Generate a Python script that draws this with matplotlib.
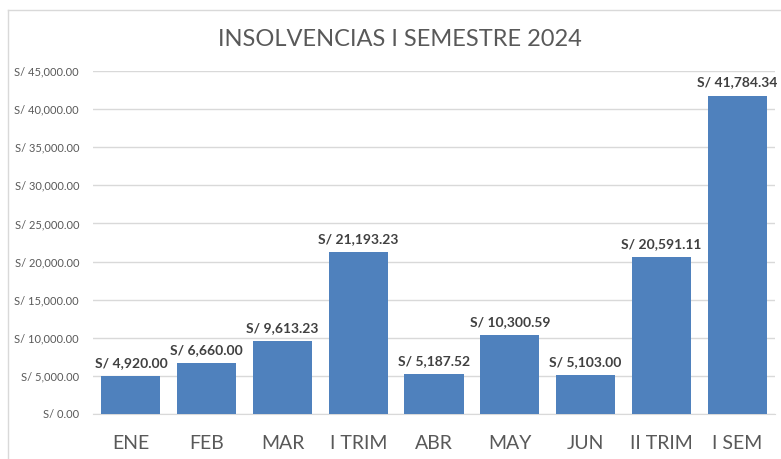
import matplotlib
matplotlib.use("Agg")
import matplotlib.pyplot as plt
from matplotlib.lines import Line2D
from matplotlib.ticker import FuncFormatter

categories = ["ENE", "FEB", "MAR", "I TRIM", "ABR", "MAY", "JUN", "II TRIM", "I SEM"]
values = [4920.00, 6660.00, 9613.23, 21193.23, 5187.52, 10300.59, 5103.00, 20591.11, 41784.34]
title = "INSOLVENCIAS I SEMESTRE 2024"

plt.rcParams['font.family'] = ['Lato', 'DejaVu Sans']

fig = plt.figure(figsize=(7.81, 4.59), dpi=100)
ax = fig.add_axes([93 / 781, 1 - 414 / 459, (775 - 93) / 781, (414 - 71) / 459])

x = range(len(categories))
bars = ax.bar(x, values, width=0.78, color="#4f81bd", zorder=3)

ax.set_xlim(-0.5, len(categories) - 0.5)
ax.set_ylim(0, 45000)
ax.set_yticks(range(0, 45001, 5000))
ax.yaxis.set_major_formatter(FuncFormatter(lambda v, p: f"S/ {v:,.2f}"))
ax.grid(axis="y", color="#d9d9d9", linewidth=1, zorder=0)
ax.set_xticks(list(x))
ax.set_xticklabels(categories, fontsize=14, color="#595959")
ax.tick_params(axis="y", labelsize=8, colors="#595959", length=0, pad=10)
ax.tick_params(axis="x", length=0, pad=15)
for s in ["top", "right", "left"]:
    ax.spines[s].set_visible(False)
ax.spines["bottom"].set_color("#d9d9d9")

for b, v in zip(bars, values):
    ax.annotate(f"S/ {v:,.2f}", (b.get_x() + b.get_width() / 2, v),
                xytext=(0, 5), textcoords="offset points", ha="center", va="bottom",
                fontsize=10, fontweight="bold", color="#404040")

fig.text(400 / 781, 1 - 40 / 459, title, ha="center", va="center",
         fontsize=17, color="#595959")

# chart frame
fig.add_artist(Line2D([8 / 781, 8 / 781], [0, 1 - 10 / 459], color="#d9d9d9", lw=1,
                      transform=fig.transFigure))
fig.add_artist(Line2D([8 / 781, 1], [1 - 10 / 459, 1 - 10 / 459], color="#d9d9d9", lw=1,
                      transform=fig.transFigure))

fig.savefig("out.png", dpi=100)
